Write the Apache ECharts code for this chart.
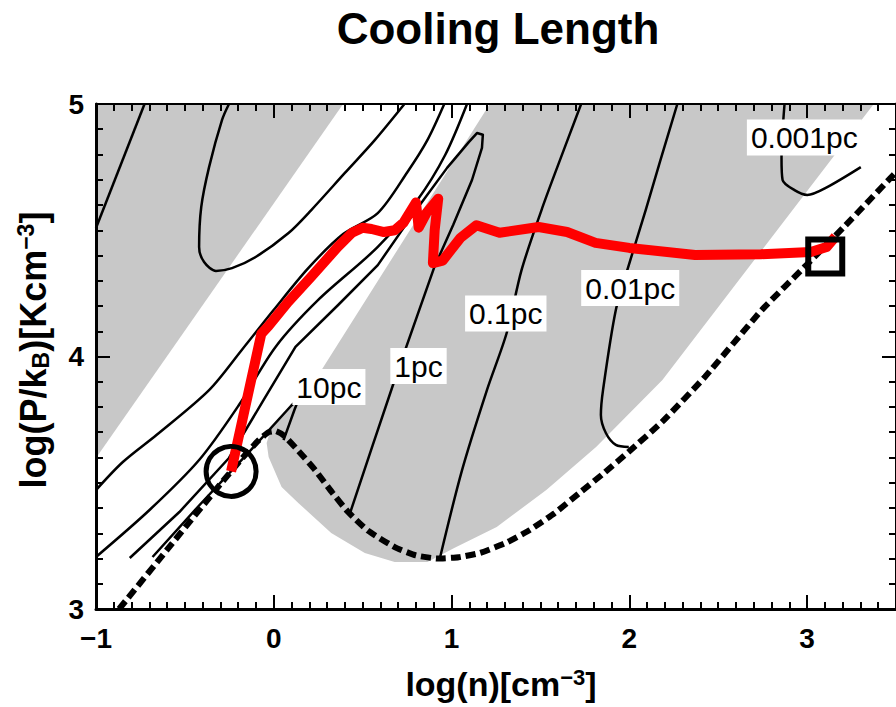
<!DOCTYPE html>
<html>
<head>
<meta charset="utf-8">
<script src="https://cdn.jsdelivr.net/npm/echarts@6/dist/echarts.min.js"></script>
<style>
  html, body { margin: 0; padding: 0; background: #fff; }
  #chart { width: 896px; height: 707px; }
</style>
</head>
<body>
<div id="chart"></div>
<script>
// Axis ranges: log(n) [cm^-3] and log(P/kB) [K cm^-3]
const xRange = [-1, 3.5];
const yRange = [3, 5];

// Shaded regions (boundaries in log n, log P/k)
const shadeLeft = [[-1, 5], [0.39, 5], [-1, 3.598]];
const shadeMain = [
  [1.215, 5.0], [3.375, 5.0], [2.186, 3.907], [1.813, 3.642], [1.533, 3.471],
  [1.254, 3.325], [1.015, 3.242], [0.864, 3.186], [0.68, 3.186], [0.512, 3.222],
  [0.323, 3.301], [0.138, 3.42], [0.044, 3.483], [-0.029, 3.602], [-0.04, 3.657],
  [-0.018, 3.709], [0.083, 3.796], [0.233, 3.907], [0.585, 4.299]
];

// Cooling-length contours
const contourEdge = [[-1.0, 4.509], [-0.727, 5.0]];
const contourLoop = [
  [-0.252, 5.0], [-0.291, 4.937], [-0.364, 4.75], [-0.408, 4.592], [-0.42, 4.434],
  [-0.392, 4.374], [-0.325, 4.339], [-0.235, 4.35], [-0.102, 4.394], [0.083, 4.489],
  [0.211, 4.58], [0.40, 4.727], [0.568, 4.857], [0.735, 5.0]
];
const contourB = [
  [-1.0, 3.471], [-0.849, 3.582], [-0.66, 3.689], [-0.364, 3.867], [-0.18, 4.026],
  [-0.001, 4.184], [0.194, 4.35], [0.39, 4.485], [0.585, 4.568], [0.752, 4.731],
  [0.864, 4.857], [0.959, 5.0]
];
const contourC = [
  [-1.0, 3.206], [-0.699, 3.392], [-0.42, 3.59], [-0.196, 3.808], [0.01, 4.038],
  [0.25, 4.224], [0.585, 4.434], [0.808, 4.62], [0.964, 4.798], [1.087, 5.0]
];
const contour1pc = [
  [-0.81, 3.202], [-0.531, 3.384], [-0.252, 3.598], [-0.057, 3.828], [0.122, 4.038],
  [0.362, 4.204], [0.585, 4.362], [0.78, 4.56], [0.975, 4.747], [1.098, 4.85],
  [1.143, 4.885], [1.176, 4.878], [1.171, 4.826], [1.115, 4.699], [1.009, 4.521],
  [0.903, 4.354], [0.808, 4.164], [0.68, 3.907], [0.557, 3.65], [0.429, 3.38]
];
const contour10pc = [
  [-0.682, 3.206], [-0.42, 3.41], [-0.141, 3.62], [0.099, 3.806], [0.222, 3.887],
  [0.138, 3.828], [0.116, 3.788], [0.055, 3.669]
];
const contour01pc = [
  [1.729, 5.0], [1.589, 4.739], [1.506, 4.58], [1.394, 4.343], [1.31, 4.093],
  [1.199, 3.867], [1.059, 3.55], [0.936, 3.206]
];
const contour001pc = [
  [2.27, 5.0], [2.175, 4.778], [2.092, 4.58], [1.997, 4.362], [1.924, 4.184],
  [1.852, 3.867], [1.84, 3.768], [1.868, 3.697], [1.924, 3.65], [1.997, 3.642]
];
const contour0001pc = [
  [2.873, 5.0], [2.856, 4.786], [2.862, 4.699], [2.929, 4.659], [3.001, 4.64],
  [3.113, 4.671], [3.302, 4.75]
];

// Thermal equilibrium curve
const equilibrium = [
  [-0.87, 3.0], [-0.6, 3.235], [-0.3, 3.495], [-0.18, 3.595], [-0.09, 3.665],
  [-0.03, 3.70], [0.01, 3.705], [0.06, 3.685], [0.14, 3.625], [0.233, 3.55],
  [0.33, 3.46], [0.417, 3.385], [0.53, 3.31], [0.68, 3.245], [0.80, 3.212],
  [0.92, 3.20], [1.04, 3.205], [1.16, 3.222], [1.30, 3.26], [1.44, 3.313],
  [1.58, 3.38], [1.72, 3.46], [1.86, 3.54], [2.0, 3.625], [2.19, 3.745],
  [2.426, 3.92], [2.745, 4.184], [3.0, 4.365], [3.21, 4.515], [3.5, 4.73]
];

// Evolution track of the gas parcel
const track = [
  [-0.24, 3.545], [-0.07, 4.09], [-0.03, 4.12], [0.08, 4.215], [0.21, 4.315],
  [0.36, 4.434], [0.44, 4.49], [0.50, 4.51], [0.55, 4.505], [0.62, 4.493],
  [0.68, 4.50], [0.73, 4.53], [0.80, 4.61], [0.815, 4.51], [0.86, 4.57],
  [0.925, 4.625], [0.905, 4.50], [0.895, 4.37], [0.95, 4.38], [1.05, 4.47],
  [1.14, 4.52], [1.27, 4.49], [1.49, 4.513], [1.65, 4.493], [1.81, 4.45],
  [2.0, 4.43], [2.37, 4.402], [2.74, 4.405], [3.02, 4.414], [3.11, 4.434],
  [3.16, 4.475]
];
const trackStart = [-0.24, 3.545];
const trackEnd = [3.102, 4.396];

// Contour labels
const labelNames = ['10pc', '1pc', '0.1pc', '0.01pc', '0.001pc'];
const labelPoints = [[0.31, 3.879], [0.814, 3.962], [1.305, 4.170], [2.005, 4.271], [2.984, 4.867]];

// Tick settings
const xMajor = 1, xMinor = 0.1, yMajor = 1, yMinor = 0.1;

const FONT = '"Liberation Sans", Arial, Helvetica, sans-serif';

function axisBase(range, extra) {
  return Object.assign({
    type: 'value', min: range[0], max: range[1],
    splitLine: { show: false },
    axisLabel: { show: false },
    axisLine: { show: false, onZero: false },
    axisTick: { show: false },
    z: 20
  }, extra);
}
const majorTick = { show: true, inside: true, length: 14, lineStyle: { color: '#000', width: 2 } };
const minorTickStyle = { show: true, inside: true, length: 7, lineStyle: { color: '#000', width: 2 } };
const fmt = v => (Math.abs(v - Math.round(v)) > 1e-9) ? '' : (v < 0 ? '\u2212' + (-v) : String(v));

function polygonSeries(points, z) {
  return {
    type: 'custom', z: z, silent: true,
    data: points,
    renderItem: function (params, api) {
      if (params.dataIndex !== 0) return null;
      const pts = points.map(p => api.coord(p));
      return { type: 'polygon', shape: { points: pts }, style: { fill: '#c8c8c8', stroke: null } };
    }
  };
}
function lineSeries(data, width, smooth, extra) {
  return Object.assign({
    type: 'line', data: data, symbol: 'none', smooth: smooth, silent: true,
    lineStyle: { color: '#000', width: width, join: 'round' }, z: 3, clip: true
  }, extra || {});
}
function markerSeries(point, symbol, size, border) {
  return {
    type: 'scatter', silent: true, z: 9, data: [point], symbol: symbol, symbolSize: size,
    itemStyle: { color: 'rgba(0,0,0,0)', borderColor: '#000', borderWidth: border, opacity: 1 }
  };
}

const chart = echarts.init(document.getElementById('chart'), null, { renderer: 'svg' });
chart.setOption({
  animation: false,
  backgroundColor: '#fff',
  grid: { left: 96, top: 104, width: 806, height: 505, containLabel: false },
  xAxis: [
    axisBase(xRange, {
      position: 'bottom', interval: xMajor,
      axisLine: { show: true, onZero: false, lineStyle: { color: '#000', width: 3 } },
      axisTick: majorTick,
      axisLabel: { show: true, formatter: fmt, fontSize: 28, fontWeight: 'bold', color: '#000', fontFamily: FONT, margin: 15, showMaxLabel: false }
    }),
    axisBase(xRange, {
      position: 'top', interval: xMajor,
      axisLine: { show: true, onZero: false, lineStyle: { color: '#000', width: 2 } },
      axisTick: majorTick
    }),
    axisBase(xRange, { position: 'bottom', interval: xMinor, axisTick: minorTickStyle }),
    axisBase(xRange, { position: 'top', interval: xMinor, axisTick: minorTickStyle })
  ],
  yAxis: [
    axisBase(yRange, {
      position: 'left', interval: yMajor,
      axisLine: { show: true, onZero: false, lineStyle: { color: '#000', width: 3 } },
      axisTick: majorTick,
      axisLabel: { show: true, formatter: fmt, fontSize: 28, fontWeight: 'bold', color: '#000', fontFamily: FONT, margin: 12 }
    }),
    axisBase(yRange, {
      position: 'right', interval: yMajor,
      axisLine: { show: true, onZero: false, lineStyle: { color: '#000', width: 3 } },
      axisTick: majorTick
    }),
    axisBase(yRange, { position: 'left', interval: yMinor, axisTick: minorTickStyle }),
    axisBase(yRange, { position: 'right', interval: yMinor, axisTick: minorTickStyle })
  ],
  series: [
    polygonSeries(shadeLeft, 1),
    polygonSeries(shadeMain, 1),
    lineSeries(contourEdge, 2.5, false),
    lineSeries(contourLoop, 2.5, 0.3),
    lineSeries(contourB, 2.5, 0.3),
    lineSeries(contourC, 2.5, 0.3),
    lineSeries(contour1pc, 2.5, false),
    lineSeries(contour10pc, 2.5, false),
    lineSeries(contour01pc, 2.5, 0.3),
    lineSeries(contour001pc, 2.5, 0.3),
    lineSeries(contour0001pc, 2.5, 0.3),
    lineSeries(equilibrium, 6, 0.15, { lineStyle: { color: '#000', width: 6, type: [10, 5], cap: 'butt' }, z: 4 }),
    lineSeries(track, 10, false, { lineStyle: { color: '#ff0000', width: 10, join: 'round', cap: 'butt' }, z: 5 }),
    {
      type: 'scatter', silent: true, z: 8,
      data: labelPoints.map((p, i) => ({ value: p, name: labelNames[i] })),
      symbolSize: 1, itemStyle: { color: 'rgba(0,0,0,0)', opacity: 1 },
      label: {
        show: true, position: 'inside', formatter: '{b}', color: '#000', opacity: 1,
        fontSize: 30, fontFamily: FONT, backgroundColor: '#fff', padding: [4, 4, 2, 4]
      }
    },
    markerSeries(trackStart, 'circle', 50, 5),
    markerSeries(trackEnd, 'rect', 34, 6)
  ],
  graphic: [
    {
      type: 'text', x: 498, y: 28, silent: true,
      style: { text: 'Cooling Length', font: 'bold 44px ' + FONT, fill: '#000', align: 'center', verticalAlign: 'middle' }
    },
    {
      type: 'text', x: 501, y: 684, silent: true,
      style: {
        text: '{m|log(n)[cm}{s|\u22123}{m|]}', align: 'center', verticalAlign: 'middle', fill: '#000',
        rich: {
          m: { fontSize: 34, fontWeight: 'bold', fontFamily: FONT, fill: '#000', lineHeight: 36 },
          s: { fontSize: 22, fontWeight: 'bold', fontFamily: FONT, fill: '#000', verticalAlign: 'top', lineHeight: 36 }
        }
      }
    },
    {
      type: 'text', x: 33, y: 350, rotation: Math.PI / 2, silent: true,
      style: {
        text: '{m|log(P/k}{b|B}{m|)[Kcm}{s|\u22123}{m|]}', align: 'center', verticalAlign: 'middle', fill: '#000',
        rich: {
          m: { fontSize: 36, fontWeight: 'bold', fontFamily: FONT, fill: '#000', lineHeight: 38 },
          b: { fontSize: 23, fontWeight: 'bold', fontFamily: FONT, fill: '#000', verticalAlign: 'bottom', lineHeight: 38 },
          s: { fontSize: 23, fontWeight: 'bold', fontFamily: FONT, fill: '#000', verticalAlign: 'top', lineHeight: 38 }
        }
      }
    }
  ]
});
</script>
</body>
</html>
